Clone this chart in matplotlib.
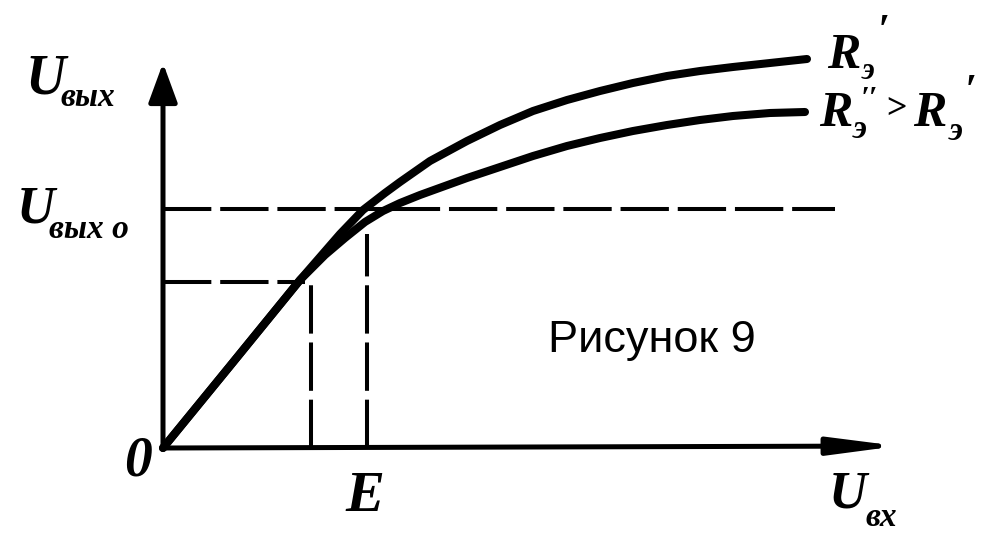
import matplotlib
matplotlib.use('Agg')
import matplotlib.pyplot as plt

# transfer characteristic U_out(U_in) for two emitter resistances
upper_x = [0, 0.67, 1.37, 1.77, 2.00, 2.22, 2.37, 2.67, 3.04, 3.37, 3.70,
           4.04, 4.37, 4.70, 5.04, 5.37, 5.70, 6.07, 6.44]
upper_y = [0, 0.82, 1.68, 2.14, 2.38, 2.55, 2.66, 2.87, 3.07, 3.23, 3.37,
           3.48, 3.57, 3.65, 3.72, 3.77, 3.81, 3.85, 3.89]
lower_x = [0, 0.67, 1.37, 1.62, 1.82, 2.02, 2.20, 2.37, 2.57, 3.04, 3.37,
           3.70, 4.04, 4.37, 4.70, 5.04, 5.37, 5.70, 6.07, 6.42]
lower_y = [0, 0.82, 1.68, 1.93, 2.10, 2.26, 2.37, 2.45, 2.53, 2.70, 2.81,
           2.92, 3.02, 3.10, 3.17, 3.23, 3.28, 3.32, 3.35, 3.36]

E = 2.04          # input level marked on the x axis
u_out0 = 2.39     # output level U_out0
knee_x = 1.42     # lower auxiliary point
knee_y = 1.66
x_end = 7.35
y_end = 3.85
dash_end = 6.72

fig = plt.figure(figsize=(9.9, 5.34), dpi=100)
ax = fig.add_axes([0, 0, 1, 1])
ax.set_xlim(-1.63, 8.27)
ax.set_ylim(-0.86, 4.48)
ax.axis('off')

serif = dict(family='Liberation Serif', weight='bold', style='italic', color='k')

# axes with arrows
ax.annotate('', xy=(0, y_end), xytext=(0, 0),
            arrowprops=dict(arrowstyle='-|>,head_length=0.6,head_width=0.22',
                            lw=3.6, color='k', mutation_scale=40, shrinkA=0, shrinkB=0))
ax.annotate('', xy=(x_end, 0.02), xytext=(0, 0),
            arrowprops=dict(arrowstyle='-|>,head_length=1.0,head_width=0.13',
                            lw=3.6, color='k', mutation_scale=40, shrinkA=0, shrinkB=0))

# dashed guide lines
dash = dict(color='k', lw=2.9, dashes=(12, 2.2))
ax.plot([0, dash_end], [u_out0, u_out0], **dash)
ax.plot([0, knee_x], [knee_y, knee_y], **dash)
ax.plot([knee_x + 0.06, knee_x + 0.06], [0, knee_y], **dash)
ax.plot([E, E], [0, 2.14], **dash)

# curves
line = dict(color='k', lw=5.8, solid_joinstyle='round', solid_capstyle='round')
ax.plot(upper_x, upper_y, **line)
ax.plot(lower_x, lower_y, **line)

# axis labels
ax.text(-1.38, 3.55, 'U', fontsize=40, ha='left', va='baseline', **serif)
ax.text(-1.03, 3.42, 'вых', fontsize=24, ha='left', va='baseline', **serif)
ax.text(-1.46, 2.26, 'U', fontsize=38, ha='left', va='baseline', **serif)
ax.text(-1.14, 2.10, 'вых о', fontsize=24, ha='left', va='baseline', **serif)
ax.text(-0.25, -0.28, '0', fontsize=40, ha='center', va='baseline', **serif)
ax.text(E - 0.02, -0.63, 'E', fontsize=42, ha='center', va='baseline', **serif)
ax.text(6.66, -0.59, 'U', fontsize=38, ha='left', va='baseline', **serif)
ax.text(7.02, -0.78, 'вх', fontsize=24, ha='left', va='baseline', **serif)

# curve labels
ax.text(6.64, 3.80, 'R', fontsize=36, ha='left', va='baseline', **serif)
ax.text(6.99, 3.69, 'э', fontsize=22, ha='left', va='baseline', **serif)
ax.text(7.15, 4.05, '′', fontsize=30, ha='left', va='baseline', **serif)
ax.text(6.56, 3.22, 'R', fontsize=36, ha='left', va='baseline', **serif)
ax.text(6.90, 3.10, 'э', fontsize=24, ha='left', va='baseline', **serif)
ax.text(6.98, 3.40, '′′', fontsize=22, ha='left', va='baseline', **serif)
ax.text(7.22, 3.30, '>', fontsize=26, ha='left', va='baseline', **serif)
ax.text(7.50, 3.22, 'R', fontsize=36, ha='left', va='baseline', **serif)
ax.text(7.86, 3.08, 'э', fontsize=24, ha='left', va='baseline', **serif)
ax.text(8.02, 3.45, '′', fontsize=30, ha='left', va='baseline', **serif)

ax.text(3.85, 0.96, 'Рисунок 9', fontsize=32.5, family='Liberation Sans',
        ha='left', va='baseline', color='k')

fig.savefig('out.png', dpi=100)
